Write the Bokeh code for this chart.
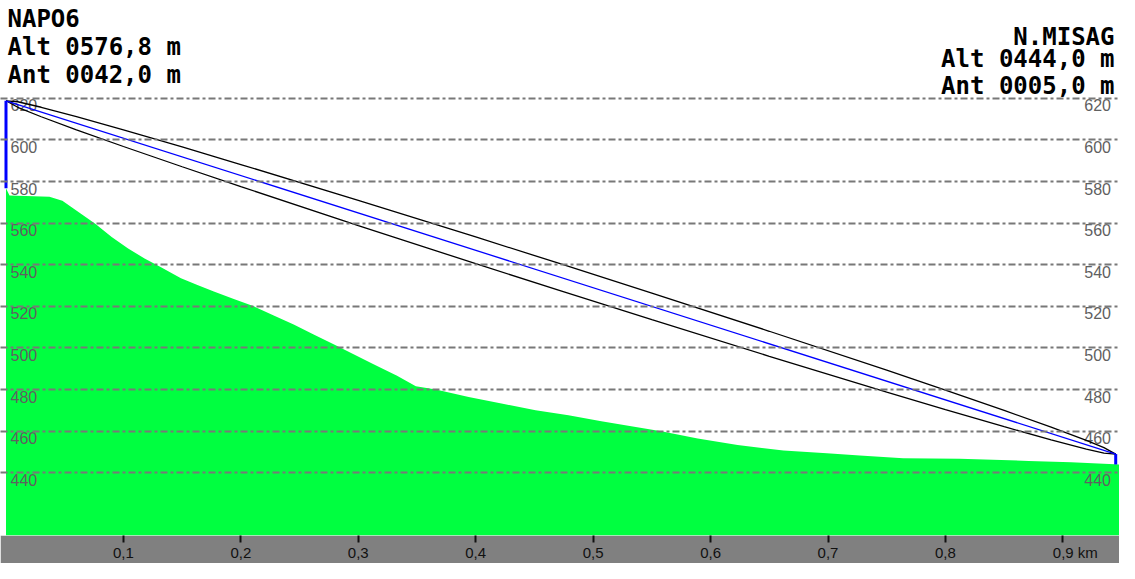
from bokeh.plotting import figure
from bokeh.models import Range1d, FixedTicker, Label
from bokeh.core.properties import value
from bokeh.embed import file_html
from bokeh.resources import INLINE

# ---------------- data ----------------
site_a = "NAPO6"
alt_a = 576.8
ant_a = 42.0
site_b = "N.MISAG"
alt_b = 444.0
ant_b = 5.0
path_km = 0.945

terrain_km = [0.0, 0.003, 0.037, 0.048, 0.062, 0.076, 0.090, 0.104, 0.118, 0.132,
              0.149, 0.163, 0.177, 0.194, 0.211, 0.228, 0.245, 0.262, 0.279, 0.296,
              0.313, 0.333, 0.349, 0.366, 0.394, 0.423, 0.451, 0.479, 0.507, 0.535,
              0.558, 0.589, 0.623, 0.662, 0.699, 0.727, 0.764, 0.812, 0.871, 0.907,
              0.944, 0.948]
terrain_m = [576.8, 573.3, 572.7, 570.8, 565.2, 559.7, 553.3, 547.8, 543.0, 538.8,
             533.5, 530.3, 527.1, 523.5, 520.0, 515.6, 511.3, 506.5, 501.8, 497.0,
             492.2, 486.7, 481.6, 480.0, 476.4, 473.2, 470.0, 467.6, 464.8, 462.1,
             460.0, 456.5, 453.3, 450.7, 449.4, 448.3, 447.0, 446.7, 445.7, 445.1,
             444.1, 444.0]

# Fresnel zone half-width (m) read along the path
fresnel_km = [0.0, 0.01, 0.03, 0.06, 0.10, 0.15, 0.20, 0.30, 0.40, 0.4725,
              0.55, 0.65, 0.75, 0.80, 0.85, 0.89, 0.92, 0.935, 0.945]
fresnel_r = [0.0, 1.33, 2.28, 3.17, 4.0, 4.75, 5.31, 6.05, 6.42, 6.5,
             6.41, 6.02, 5.26, 4.69, 3.91, 3.04, 2.09, 1.33, 0.0]

y_ticks = [440, 460, 480, 500, 520, 540, 560, 580, 600, 620]
x_ticks = [0.1, 0.2, 0.3, 0.4, 0.5, 0.6, 0.7, 0.8, 0.9]
x_labels = ["0,1", "0,2", "0,3", "0,4", "0,5", "0,6", "0,7", "0,8",
            "\u00a0\u00a0\u00a0\u00a0\u00a0\u00a00,9 km"]

# ---------------- layout ----------------
W, H = 1119, 563
FRAME_H = 537
X0, X1 = -0.00468, 0.94823
Y0, Y1 = 409.86, 667.0


def px_x(px):
    return X0 + (px - 8) / W * (X1 - X0)


def px_y(py):
    return Y1 - (py - 8) / FRAME_H * (Y1 - Y0)


p = figure(width=W, height=H, output_backend="svg", toolbar_location=None,
           x_range=Range1d(X0, X1), y_range=Range1d(Y0, Y1),
           y_axis_location=None, min_border_left=0, min_border_right=0,
           min_border_top=0, min_border_bottom=H - FRAME_H)
p.outline_line_color = None
p.background_fill_color = "white"
p.border_fill_color = "#808080"

# terrain
p.varea(x=terrain_km, y1=Y0, y2=terrain_m, fill_color="#00ff40")

# grid
p.xgrid.visible = False
p.ygrid.ticker = FixedTicker(ticks=y_ticks)
p.ygrid.grid_line_color = "#787878"
p.ygrid.grid_line_width = 2
p.ygrid.grid_line_dash = "7 3 3 3"
p.ygrid.level = "guide"

# y labels inside the plot, both sides
lab = [str(v) for v in y_ticks]
p.text(x=[X0] * len(y_ticks), y=y_ticks, text=lab, x_offset=10, y_offset=1,
       text_align="left", text_baseline="top", text_font=value("Liberation Sans"),
       text_font_size="16px", text_color="#606060")
p.text(x=[X1] * len(y_ticks), y=y_ticks, text=lab, x_offset=-8.5, y_offset=1,
       text_align="right", text_baseline="top", text_font=value("Liberation Sans"),
       text_font_size="16px", text_color="#606060")

# line of sight and Fresnel boundaries
top_a = alt_a + ant_a
top_b = alt_b + ant_b
los = [top_a + (top_b - top_a) * d / path_km for d in fresnel_km]
upper = [l + r for l, r in zip(los, fresnel_r)]
lower = [l - r for l, r in zip(los, fresnel_r)]
p.line(fresnel_km, upper, line_color="black", line_width=1.3)
p.line(fresnel_km, lower, line_color="black", line_width=1.3)
p.line([0, path_km], [top_a, top_b], line_color="#0000ff", line_width=1.3)

# antennas
p.segment(x0=[0, path_km], y0=[alt_a, alt_b], x1=[0, path_km], y1=[top_a, top_b],
          line_color="#0000ff", line_width=3)

# x axis
ax = p.xaxis[0]
ax.ticker = FixedTicker(ticks=x_ticks)
ax.major_label_overrides = {t: l for t, l in zip(x_ticks, x_labels)}
ax.axis_line_color = None
ax.minor_tick_line_color = None
ax.major_tick_line_color = "#111111"
ax.major_tick_line_width = 2
ax.major_tick_in = 0
ax.major_tick_out = 7
ax.major_label_standoff = 1
ax.major_label_text_font = "Liberation Sans"
ax.major_label_text_font_size = "15px"
ax.major_label_text_color = "#111111"


def fmt(v):
    return f"{v:06.1f}".replace(".", ",")


left_lines = [site_a, f"Alt {fmt(alt_a)} m", f"Ant {fmt(ant_a)} m"]
right_lines = [site_b, f"Alt {fmt(alt_b)} m", f"Ant {fmt(ant_b)} m"]
left_base = [26.6, 54.7, 82.9]
right_base = [44.8, 66.7, 93.5]

for txt, b in zip(left_lines, left_base):
    p.add_layout(Label(x=px_x(15), y=px_y(b), text=txt, text_align="left",
                       text_baseline="alphabetic", text_font="DejaVu Sans Mono",
                       text_font_style="bold", text_font_size="24px",
                       text_color="black"))
for txt, b in zip(right_lines, right_base):
    p.add_layout(Label(x=px_x(1122), y=px_y(b), text=txt, text_align="right",
                       text_baseline="alphabetic", text_font="DejaVu Sans Mono",
                       text_font_style="bold", text_font_size="24px",
                       text_color="black"))

open("out.html", "w").write(file_html(p, INLINE))
